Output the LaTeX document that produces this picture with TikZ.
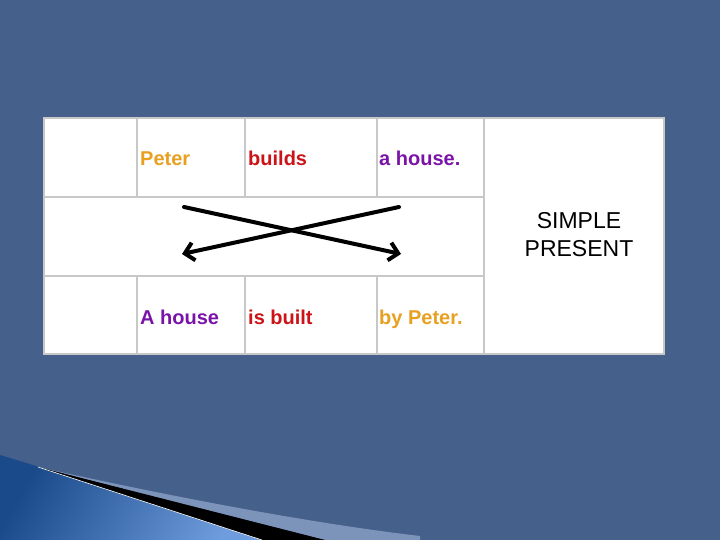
\documentclass[tikz,border=0pt]{standalone}
\usepackage{fontspec}
\setmainfont{Liberation Sans}
\usetikzlibrary{arrows.meta}
\definecolor{bg}{HTML}{45608A}
\definecolor{grid}{HTML}{C8C8C8}
\definecolor{orng}{HTML}{E8A020}
\definecolor{rd}{HTML}{CC1418}
\definecolor{purp}{HTML}{7A14A8}
\definecolor{band}{HTML}{7C94BA}
\definecolor{blueA}{HTML}{1A4A8A}
\definecolor{blueB}{HTML}{6E9CDC}
\tikzset{
  word/.style={anchor=base west, inner sep=0pt, font=\fontsize{20}{24}\selectfont\bfseries},
  cross/.style={line width=4pt, line cap=round, -{Straight Barb[length=9pt,width=18pt,line width=4pt]}},
}
\begin{document}
\begin{tikzpicture}[x=1pt,y=-1pt]
\useasboundingbox (0,0) rectangle (720,540);
\fill[bg] (0,0) rectangle (720,540);
% swoosh
\shade[left color=blueA, right color=blueB, shading angle=60] (0,455) .. controls (100,485) and (200,518) .. (262,540) -- (0,540) -- cycle;
\fill[band] (38,467) .. controls (150,492) and (300,522) .. (420,536) -- (420,540) -- (325,540) -- cycle;
\fill[black] (38,467) -- (325,540) -- (262,540) -- cycle;
\draw[white, line width=0.6pt] (38,467) -- (262,540);
% table
\fill[white] (44,118) rectangle (664,354);
\draw[grid, line width=2pt] (44,118) rectangle (664,354);
\draw[grid, line width=2pt] (44,197) -- (484,197) (44,276) -- (484,276) (484,118) -- (484,354);
\foreach \x in {137,245,377} {\draw[grid, line width=2pt] (\x,118) -- (\x,197) (\x,276) -- (\x,354);}
% words
\node[word, text=orng] (p1) at (140,166) {Peter};
\node[word, text=rd] (v1) at (248,166) {builds};
\node[word, text=purp] (o1) at (379,166) {a house.};
\node[word, text=purp] (p2) at (140,324) {A house};
\node[word, text=rd] (v2) at (248,324) {is built};
\node[word, text=orng] (o2) at (379,324) {by Peter.};
\node[align=center, inner sep=0pt, font=\fontsize{23}{28}\selectfont] (tense) at (579,235) {SIMPLE\\PRESENT};
% crossing arrows
\coordinate (a1) at (184,207);
\coordinate (a2) at (401,254);
\coordinate (b1) at (399,207);
\coordinate (b2) at (182,254);
\draw[cross] (a1) -- (a2);
\draw[cross] (b1) -- (b2);
\end{tikzpicture}
\end{document}
